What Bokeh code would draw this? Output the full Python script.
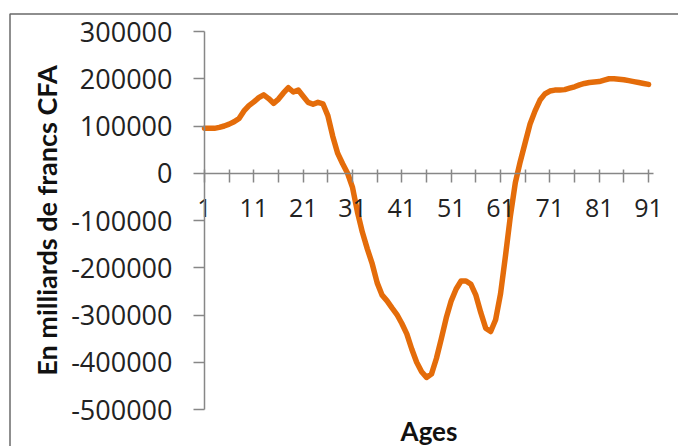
from bokeh.plotting import figure
from bokeh.models import FixedTicker, Range1d, Label, BoxAnnotation
from bokeh.embed import file_html
from bokeh.resources import INLINE

# Net flow by age, in billions of CFA francs
ages = list(range(1, 92))
values = [
    95000, 95000, 95000, 97000, 100000, 104000, 109000, 116000, 132000, 143000,
    151000, 160000, 166000, 158000, 148000, 157000, 170000, 181000, 172000, 176000,
    163000, 150000, 146000, 150000, 147000, 122000, 78000, 42000, 20000, 0,
    -30000, -82000, -125000, -160000, -192000, -232000, -258000, -270000, -285000, -299000,
    -318000, -340000, -372000, -400000, -420000, -432000, -425000, -392000, -350000, -306000,
    -270000, -245000, -228000, -228000, -235000, -258000, -295000, -328000, -335000, -310000,
    -255000, -175000, -90000, -20000, 25000, 65000, 105000, 132000, 155000, 168000,
    174000, 176000, 176000, 177000, 180000, 183000, 187000, 190000, 192000, 193000,
    194000, 197000, 200000, 200000, 199000, 198000, 196000, 194000, 192000, 190000,
    188000,
]

x_ticks = [1, 11, 21, 31, 41, 51, 61, 71, 81, 91]
x_minor_ticks = [6, 16, 26, 36, 46, 56, 66, 76, 86]
x_tick_labels = ["1", "11", "21", "31", "41", "51", "61", "71", "81", "91"]
y_ticks = [-500000, -400000, -300000, -200000, -100000, 0, 100000, 200000, 300000]
y_tick_labels = ["-500000", "-400000", "-300000", "-200000", "-100000", "0",
                 "100000", "200000", "300000"]

W, H = 678, 446
# pixel box of the plotting area inside the chart
AREA_L, AREA_R, AREA_T, AREA_B = 204, 653, 31, 409
X0, X1 = 1, 92
Y0, Y1 = -500000, 300000

ux = (X1 - X0) / (AREA_R - AREA_L)
uy = (Y1 - Y0) / (AREA_B - AREA_T)


def px_x(px):
    return X0 + (px - AREA_L) * ux


def px_y(py):
    return Y1 - (py - AREA_T) * uy


FONT = "Open Sans"
AXIS_GREY = "#878787"
TEXT = "#222222"

# the frame covers the whole canvas; axes sit at fixed positions inside it
p = figure(
    width=W, height=H,
    output_backend="svg", toolbar_location=None,
    x_range=Range1d(px_x(0), px_x(W)), y_range=Range1d(px_y(H), px_y(0)),
    min_border=0,
)
p.grid.visible = False
p.outline_line_color = None
p.background_fill_color = "white"
p.border_fill_color = "white"

# chart-area frame
p.add_layout(BoxAnnotation(left=px_x(9.5), right=px_x(W + 20),
                           top=px_y(13.5), bottom=px_y(H + 20),
                           fill_color=None, fill_alpha=0,
                           line_color="#6a6a6a", line_alpha=1.0, line_width=1.5))

p.line(ages, values, line_color="#E46C0A", line_width=5.5,
       line_join="round", line_cap="round")

xa = p.xaxis[0]
xa.fixed_location = 0
xa.bounds = (X0, X1)
xa.ticker = FixedTicker(ticks=x_ticks, minor_ticks=x_minor_ticks)
xa.major_label_overrides = {t: s for t, s in zip(x_ticks, x_tick_labels)}
xa.axis_line_color = AXIS_GREY
xa.axis_line_width = 1.5
xa.major_tick_line_color = AXIS_GREY
xa.minor_tick_line_color = AXIS_GREY
xa.major_tick_line_width = 1.5
xa.minor_tick_line_width = 1.5
xa.major_tick_in = 4
xa.major_tick_out = 9
xa.minor_tick_in = 4
xa.minor_tick_out = 9
xa.major_label_standoff = 17
xa.major_label_text_font = FONT
xa.major_label_text_font_size = "25px"
xa.major_label_text_color = TEXT

ya = p.yaxis[0]
ya.fixed_location = X0
ya.bounds = (Y0, Y1)
ya.ticker = FixedTicker(ticks=y_ticks, minor_ticks=[])
ya.major_label_overrides = {t: s for t, s in zip(y_ticks, y_tick_labels)}
ya.axis_line_color = AXIS_GREY
ya.axis_line_width = 1.5
ya.major_tick_line_color = AXIS_GREY
ya.major_tick_line_width = 1.5
ya.major_tick_in = 0
ya.major_tick_out = 11
ya.major_label_standoff = 21
ya.major_label_text_font = FONT
ya.major_label_text_font_size = "27px"
ya.major_label_text_color = TEXT
ya.axis_label = "En milliards de francs CFA"
ya.axis_label_text_font = "Lato"
ya.axis_label_text_font_size = "27px"
ya.axis_label_text_font_style = "bold"
ya.axis_label_text_color = "#111111"
ya.axis_label_standoff = 5

p.add_layout(Label(x=(X0 + X1) / 2, y=px_y(430), text="Ages",
                   text_align="center", text_baseline="middle",
                   text_font="Lato", text_font_size="26px", text_font_style="bold",
                   text_color="#111111"))

open("out.html", "w").write(file_html(p, INLINE))
